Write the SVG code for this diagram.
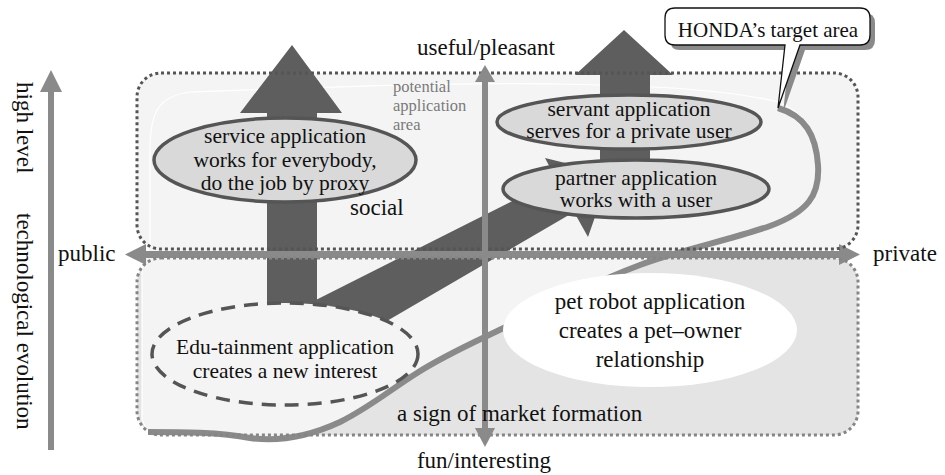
<svg xmlns="http://www.w3.org/2000/svg" width="945" height="475" viewBox="0 0 945 475" font-family="'Liberation Serif', 'Times New Roman', Times, serif">
<defs>
<style>
text{font-family:'Liberation Serif','Times New Roman',Times,serif;fill:#111}
.lbl{font-size:23px}
.el{font-size:21.5px;text-anchor:middle}
.pot{font-size:16.5px;fill:#7a7a7a}
.axis{fill:#8a8a8a}
.dark{fill:#5e5e5e}
.appl{fill:#d9d9d9;stroke:#555;stroke-width:3.5}
</style>
</defs>
<rect width="945" height="475" fill="#fff"/>
<g id="regions">
<rect x="137" y="73" width="721" height="176" rx="24" fill="#f4f4f4"/>
<rect x="137" y="258" width="721" height="177" rx="24" fill="#e4e4e4"/>
<path d="M150,245 L150,150 C150,110 160,96 190,92 C300,88 450,82 560,84 C660,86 730,90 778,102 C805,112 816,135 818,165 C820,195 808,212 770,226 C730,240 680,250 640,265 C600,280 560,300 520,320 C480,340 450,352 417,373 C390,390 370,407 340,422 C310,436 280,442 250,438 C220,432 180,432 148,432 L142,420 L142,270 Z" fill="#f4f4f4" stroke="#fff" stroke-width="1.2"/>
<path d="M778,108 C805,116 816,135 818,165 C820,195 808,212 770,226 C730,240 680,250 640,265 C600,280 560,300 520,320 C480,340 450,352 417,373 C390,390 370,407 340,422 C310,436 280,442 250,438 C220,432 180,432 148,432" fill="none" stroke="#8a8a8a" stroke-width="6"/>
</g>
<g id="connectors">
<path class="dark" d="M267,306 L267,113 L240,113 L292,45 L342,113 L317,113 L317,306 Z"/>
<path class="dark" d="M600,195 L600,75 L575,75 L624,30 L673,75 L650,75 L650,195 Z"/>
<path class="dark" d="M300,308 L556,179 L545,158 L610,174 L588,237 L574,212 L380,325 Z"/>
<rect class="axis" x="48" y="90" width="6" height="360"/>
<path class="axis" d="M40,92 L51,70 L62,92 Z"/>
<rect class="axis" x="143" y="251" width="700" height="7"/>
<path class="axis" d="M125,254.5 L146,244 L146,265 Z"/>
<path class="axis" d="M860,254.5 L839,244 L839,265 Z"/>
</g>
<g id="outlines" fill="none" stroke-width="3" stroke-dasharray="3 3">
<rect x="137" y="73" width="721" height="176" rx="24" stroke="#555"/>
<rect x="137" y="258" width="721" height="177" rx="24" stroke="#858585"/>
</g>
<g id="vaxis">
<rect class="axis" x="482" y="80" width="6" height="350"/>
<path class="axis" d="M475,82 L485,65 L495,82 Z"/>
<path class="axis" d="M475,428 L485,447 L495,428 Z"/>
</g>
<g id="service">
<ellipse class="appl" cx="285" cy="160" rx="131" ry="42"/>
<text class="el" x="285" y="143">service application</text>
<text class="el" x="285" y="167">works for everybody,</text>
<text class="el" x="285" y="190">do the job by proxy</text>
</g>
<g id="servant">
<ellipse class="appl" cx="629" cy="122" rx="132" ry="27"/>
<text class="el" x="629" y="116">servant application</text>
<text class="el" x="629" y="138">serves for a private user</text>
</g>
<g id="partner">
<ellipse class="appl" cx="636" cy="189" rx="133" ry="29"/>
<text class="el" x="636" y="185">partner application</text>
<text class="el" x="636" y="207">works with a user</text>
</g>
<g id="edutainment">
<ellipse cx="285" cy="354" rx="133" ry="51" fill="#f4f4f4" stroke="#555" stroke-width="3.5" stroke-dasharray="14 9"/>
<text class="el" x="285" y="354">Edu-tainment application</text>
<text class="el" x="285" y="378">creates a new interest</text>
</g>
<g id="petrobot">
<ellipse cx="650" cy="330" rx="147" ry="57" fill="#fff"/>
<text class="lbl" x="650" y="309" text-anchor="middle">pet robot application</text>
<text class="lbl" x="650" y="338" text-anchor="middle">creates a pet–owner</text>
<text class="lbl" x="650" y="367" text-anchor="middle">relationship</text>
</g>
<g id="labels">
<text class="lbl" transform="translate(17,82) rotate(90)">high level</text>
<text class="lbl" transform="translate(17,213) rotate(90)">technological evolution</text>
<text class="lbl" x="58" y="261">public</text>
<text class="lbl" x="873" y="261">private</text>
<text class="lbl" x="486" y="55" text-anchor="middle">useful/pleasant</text>
<text class="lbl" x="484" y="468" text-anchor="middle">fun/interesting</text>
<text class="lbl" x="350" y="215">social</text>
<text class="lbl" x="397" y="421">a sign of market formation</text>
<text class="pot" x="393" y="92">potential</text>
<text class="pot" x="393" y="111">application</text>
<text class="pot" x="393" y="130">area</text>
</g>
<g id="bubble">
<path d="M675,8 H860 Q870,8 870,18 V35 Q870,45 860,45 H800 L778,108 L785,45 H675 Q665,45 665,35 V18 Q665,8 675,8 Z" fill="#8a8a8a" transform="translate(5,5)"/>
<path d="M675,8 H860 Q870,8 870,18 V35 Q870,45 860,45 H800 L778,108 L785,45 H675 Q665,45 665,35 V18 Q665,8 675,8 Z" fill="#fff" stroke="#111" stroke-width="1.3"/>
<text x="768" y="37" font-size="21" text-anchor="middle">HONDA’s target area</text>
</g>
</svg>
